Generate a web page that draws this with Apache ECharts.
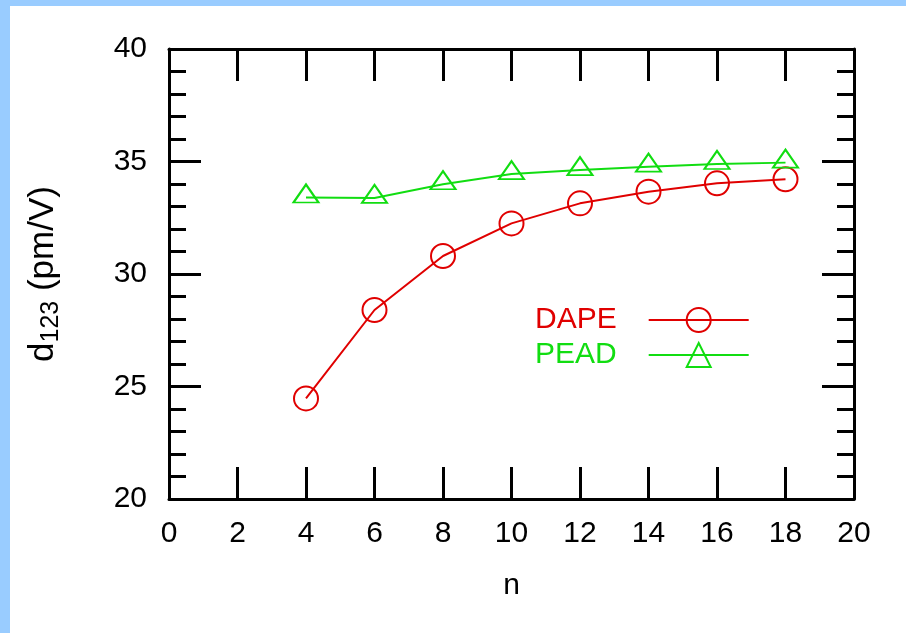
<!DOCTYPE html>
<html>
<head>
<meta charset="utf-8">
<script src="https://cdn.jsdelivr.net/npm/echarts@6/dist/echarts.min.js"></script>
<style>
    html, body { margin: 0; padding: 0; background: #99ccff; }
    #chart { position: absolute; left: 10px; top: 6px; width: 896px; height: 627px; background: #fff; }
</style>
</head>
<body>
<div id="chart"></div>
<script>
// chain length n
const nValues = [4, 6, 8, 10, 12, 14, 16, 18];
// d123 (pm/V)
const dapeValues = [24.47, 28.4, 30.8, 32.25, 33.14, 33.66, 34.03, 34.21];
const peadValues = [33.4, 33.38, 33.99, 34.44, 34.62, 34.77, 34.89, 34.95];
const seriesNames = ['DAPE', 'PEAD'];

const RED = '#e00000';
const GREEN = '#11dd11';
const FONT = 'Liberation Sans';

const myChart = echarts.init(document.getElementById('chart'));

const axisLine = { show: true, onZero: false, lineStyle: { color: '#000', width: 3 } };
const tick = { inside: true, length: 32, lineStyle: { color: '#000', width: 3 } };
const minor = { show: true, splitNumber: 5, length: 17, lineStyle: { color: '#000', width: 3 } };
const hiddenLabel = { show: false };

const option = {
    animation: false,
    backgroundColor: '#fff',
    textStyle: { fontFamily: FONT },
    grid: { left: 159, right: 52, top: 43, bottom: 134 },
    legend: {
        orient: 'vertical',
        left: 525,
        top: 299,
        padding: 0,
        align: 'right',
        itemWidth: 100,
        itemHeight: 30,
        itemGap: 5,
        textStyle: { fontSize: 30, fontFamily: FONT, padding: [0, 27, 0, 0] },
        data: seriesNames.map((name, i) => ({
            name,
            textStyle: { color: i === 0 ? RED : GREEN }
        }))
    },
    xAxis: [{
        type: 'value',
        min: 0, max: 20, interval: 2,
        name: 'n',
        nameLocation: 'middle',
        nameGap: 72,
        nameTextStyle: { fontSize: 30, color: '#000', fontFamily: FONT },
        axisLine,
        axisTick: tick,
        axisLabel: { fontSize: 30, color: '#000', margin: 20, fontFamily: FONT },
        splitLine: { show: false }
    }, {
        type: 'value',
        position: 'top',
        min: 0, max: 20, interval: 2,
        axisLine,
        axisTick: tick,
        axisLabel: hiddenLabel,
        splitLine: { show: false }
    }],
    yAxis: [{
        type: 'value',
        min: 20, max: 40, interval: 5,
        name: '{a|d}{b|123}{a| (pm/V)}',
        nameLocation: 'middle',
        nameGap: 105,
        nameTextStyle: {
            color: '#000',
            rich: {
                a: { fontSize: 35, lineHeight: 42, fontFamily: FONT, color: '#000' },
                b: { fontSize: 25, lineHeight: 25, verticalAlign: 'bottom', fontFamily: FONT, color: '#000' }
            }
        },
        axisLine,
        axisTick: tick,
        minorTick: minor,
        axisLabel: { fontSize: 30, color: '#000', margin: 22, fontFamily: FONT },
        splitLine: { show: false },
        minorSplitLine: { show: false }
    }, {
        type: 'value',
        position: 'right',
        min: 20, max: 40, interval: 5,
        axisLine,
        axisTick: tick,
        minorTick: minor,
        axisLabel: hiddenLabel,
        splitLine: { show: false },
        minorSplitLine: { show: false }
    }],
    series: [{
        name: seriesNames[0],
        type: 'line',
        symbol: 'circle',
        symbolSize: 24,
        lineStyle: { color: RED, width: 2 },
        itemStyle: { color: 'rgba(0,0,0,0)', borderColor: RED, borderWidth: 2 },
        data: nValues.map((n, i) => [n, dapeValues[i]])
    }, {
        name: seriesNames[1],
        type: 'line',
        symbol: 'triangle',
        symbolSize: [25, 18],
        symbolOffset: [0, -4],
        lineStyle: { color: GREEN, width: 2 },
        itemStyle: { color: 'rgba(0,0,0,0)', borderColor: GREEN, borderWidth: 2 },
        data: nValues.map((n, i) => [n, peadValues[i]])
    }]
};

myChart.setOption(option);
window.addEventListener('resize', () => myChart.resize());
</script>
</body>
</html>
